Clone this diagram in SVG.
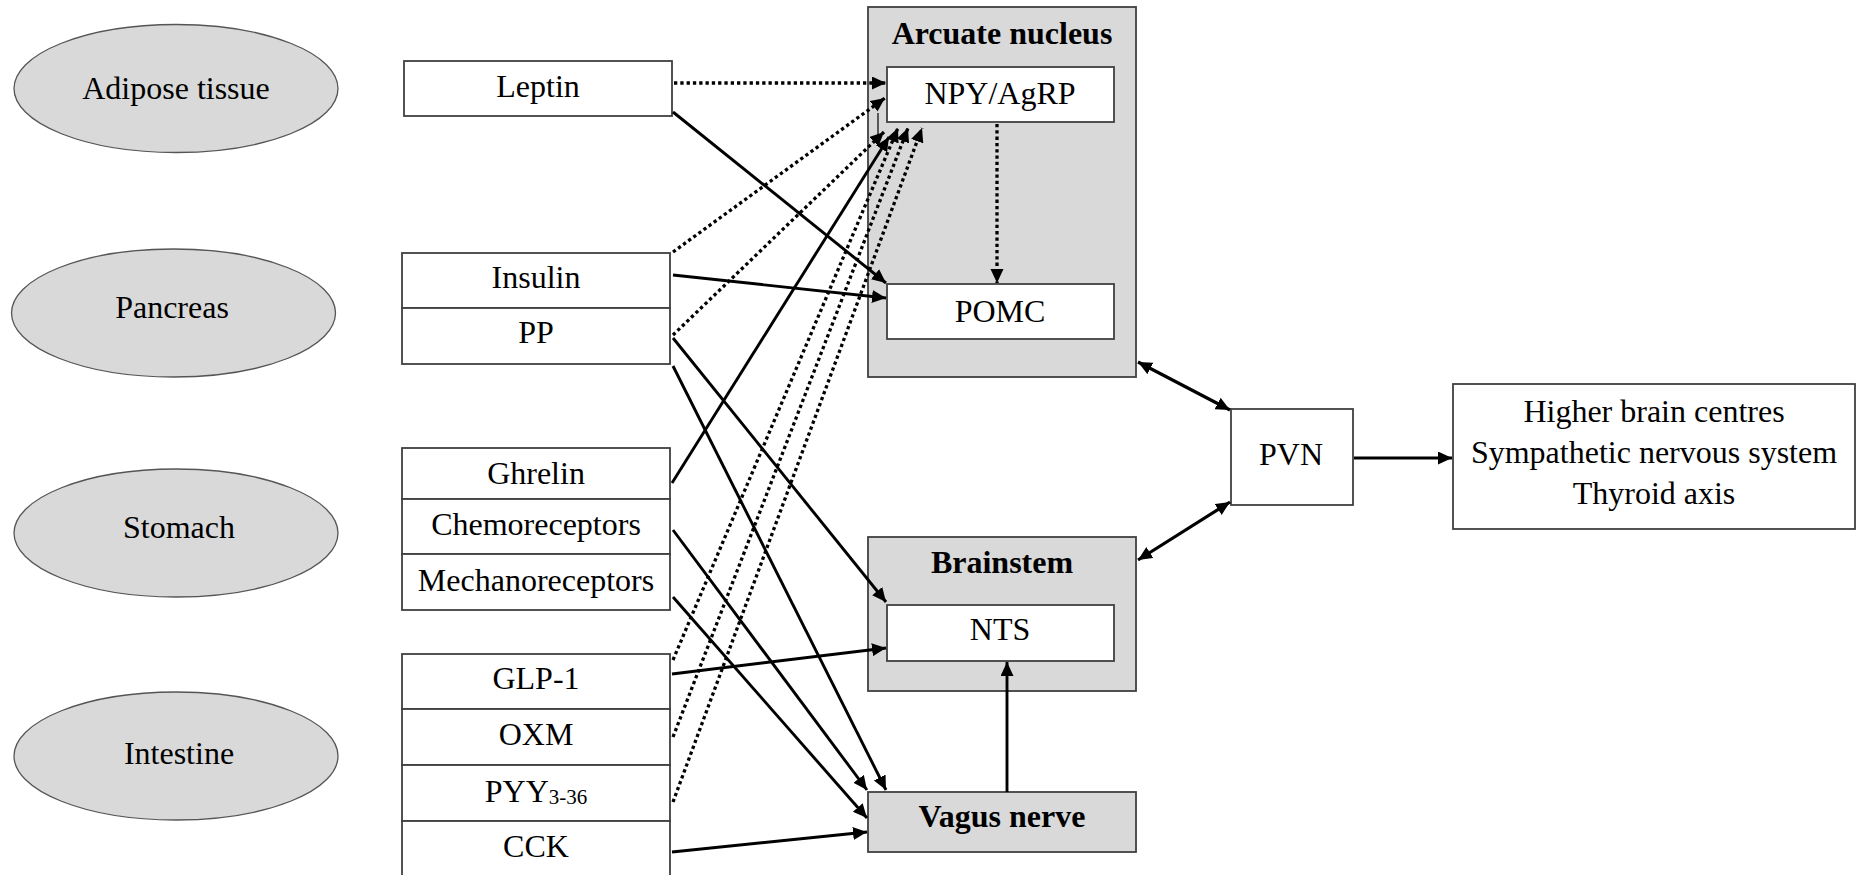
<svg xmlns="http://www.w3.org/2000/svg" width="1857" height="875" viewBox="0 0 1857 875">
<style>
text{font-family:"Liberation Serif","Times New Roman",serif;font-size:32px;fill:#000;text-anchor:middle}
.b{font-weight:bold}
.sub{font-size:21px}
.ell{fill:#d9d9d9;stroke:#555;stroke-width:1.3}
.box{fill:#fff;stroke:#404040;stroke-width:1.8}
.gbox{fill:#d9d9d9;stroke:#404040;stroke-width:1.8}
.s{fill:none;stroke:#000;stroke-width:2.9;marker-end:url(#ah)}
.d{fill:none;stroke:#000;stroke-width:3.3;stroke-dasharray:3.3 3;marker-end:url(#ah)}
.bi{fill:none;stroke:#000;stroke-width:3.2;marker-end:url(#ah);marker-start:url(#ah)}
</style>
<defs>
<marker id="ah" markerUnits="userSpaceOnUse" markerWidth="16" markerHeight="14" refX="14" refY="6.5" orient="auto-start-reverse">
<path d="M0,0 L14,6.5 L0,13 z" fill="#000"/>
</marker>
</defs>
<rect width="1857" height="875" fill="#fff"/>

<g id="adipose"><ellipse class="ell" cx="176" cy="88.5" rx="162" ry="64"/><text x="176" y="99">Adipose tissue</text></g>
<g id="pancreas"><ellipse class="ell" cx="173.5" cy="313" rx="162" ry="64"/><text x="172" y="318">Pancreas</text></g>
<g id="stomach"><ellipse class="ell" cx="176" cy="533" rx="162" ry="64"/><text x="179" y="538">Stomach</text></g>
<g id="intestine"><ellipse class="ell" cx="176" cy="756" rx="162" ry="64"/><text x="179" y="764">Intestine</text></g>

<g id="leptin"><rect class="box" x="404" y="61" width="268" height="55"/><text x="538" y="97">Leptin</text></g>
<g id="insulin"><rect class="box" x="402" y="253" width="268" height="55"/><text x="536" y="288">Insulin</text></g>
<g id="pp"><rect class="box" x="402" y="308" width="268" height="56"/><text x="536" y="343">PP</text></g>
<g id="ghrelin"><rect class="box" x="402" y="448" width="268" height="51"/><text x="536" y="484">Ghrelin</text></g>
<g id="chemoreceptors"><rect class="box" x="402" y="499" width="268" height="55"/><text x="536" y="535">Chemoreceptors</text></g>
<g id="mechanoreceptors"><rect class="box" x="402" y="554" width="268" height="56"/><text x="536" y="591">Mechanoreceptors</text></g>
<g id="glp1"><rect class="box" x="402" y="654" width="268" height="55"/><text x="536" y="689">GLP-1</text></g>
<g id="oxm"><rect class="box" x="402" y="709" width="268" height="56"/><text x="536" y="745">OXM</text></g>
<g id="pyy"><rect class="box" x="402" y="765" width="268" height="56"/><text x="536" y="802">PYY<tspan class="sub" dy="2">3-36</tspan></text></g>
<g id="cck"><rect class="box" x="402" y="821" width="268" height="70"/><text x="536" y="857">CCK</text></g>

<g id="arcuate"><rect class="gbox" x="868" y="7" width="268" height="370"/><text class="b" x="1002" y="44">Arcuate nucleus</text></g>
<g id="npy"><rect class="box" x="887" y="67" width="227" height="55"/><text x="1000" y="104">NPY/AgRP</text></g>
<g id="pomc"><rect class="box" x="887" y="284" width="227" height="55"/><text x="1000" y="322">POMC</text></g>
<g id="brainstem"><rect class="gbox" x="868" y="537" width="268" height="154"/><text class="b" x="1002" y="573">Brainstem</text></g>
<g id="nts"><rect class="box" x="887" y="605" width="227" height="56"/><text x="1000" y="640">NTS</text></g>
<g id="vagus"><rect class="gbox" x="868" y="792" width="268" height="60"/><text class="b" x="1002" y="827">Vagus nerve</text></g>
<g id="pvn"><rect class="box" x="1231" y="409" width="122" height="96"/><text x="1291" y="465">PVN</text></g>
<g id="higher"><rect class="box" x="1453" y="384" width="402" height="145"/><text x="1654" y="422">Higher brain centres</text><text x="1654" y="463">Sympathetic nervous system</text><text x="1654" y="504">Thyroid axis</text></g>

<g id="connectors">
<line class="d" x1="674" y1="83" x2="886" y2="83"/>
<line class="s" x1="673" y1="112" x2="886" y2="283"/>
<line class="d" x1="673" y1="252" x2="885" y2="98"/>
<line class="s" x1="673" y1="275" x2="886" y2="298"/>
<line class="d" x1="673" y1="335" x2="884" y2="132"/>
<line class="s" x1="672" y1="483" x2="889" y2="137"/>
<line class="d" x1="673" y1="660" x2="898" y2="128"/>
<line class="d" x1="673" y1="737" x2="908" y2="128"/>
<line class="d" x1="673" y1="802" x2="922" y2="128"/>
<line x1="878" y1="113" x2="878" y2="136" stroke="#000" stroke-width="1.2"/>
<line class="s" x1="673" y1="338" x2="886" y2="602"/>
<line class="s" x1="673" y1="366" x2="886" y2="790"/>
<line class="s" x1="673" y1="530" x2="867" y2="790"/>
<line class="s" x1="673" y1="597" x2="867" y2="818"/>
<line class="s" x1="672" y1="674" x2="886" y2="648"/>
<line class="s" x1="672" y1="852" x2="867" y2="832"/>
<line class="d" x1="997" y1="124" x2="997" y2="283"/>
<line class="s" x1="1007" y1="792" x2="1007" y2="662"/>
<line class="bi" x1="1138" y1="362" x2="1230" y2="410"/>
<line class="bi" x1="1138" y1="560" x2="1230" y2="502"/>
<line class="s" x1="1354" y1="458" x2="1452" y2="458" stroke-width="3.6"/>
</g>
</svg>
